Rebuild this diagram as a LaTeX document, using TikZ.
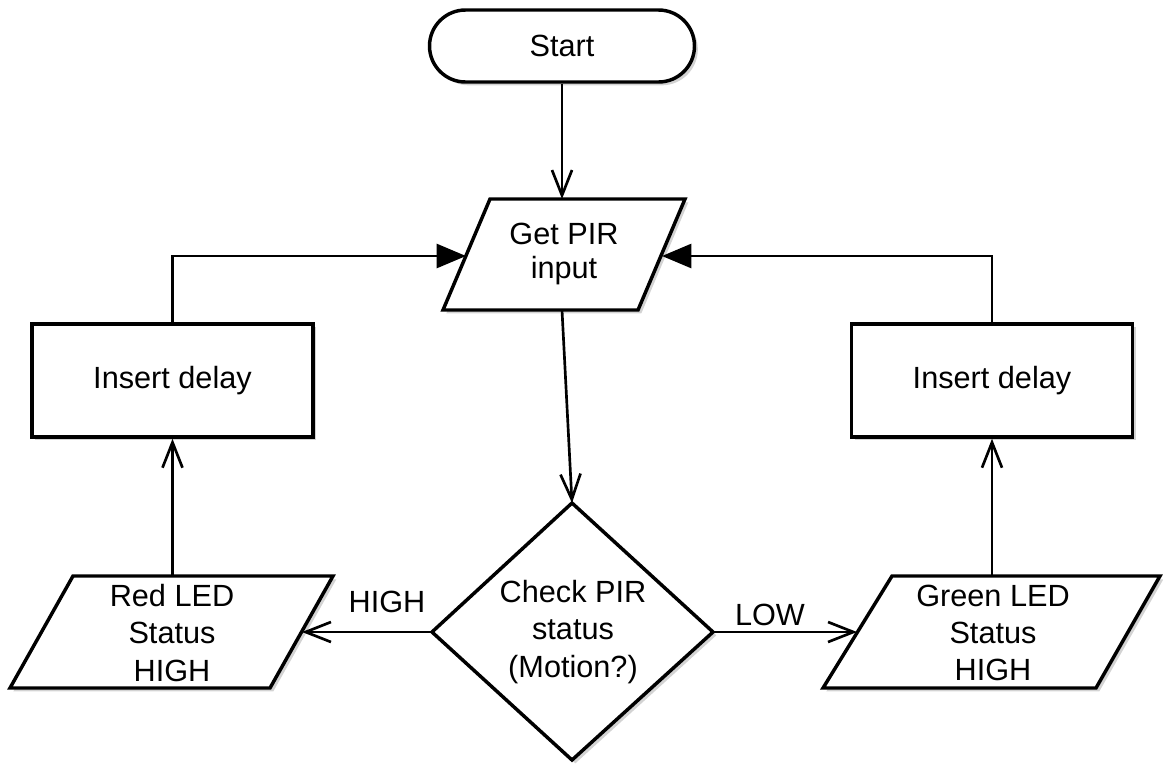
\documentclass[tikz,border=0pt]{standalone}
\usepackage{fontspec}
\setmainfont{Liberation Sans}
\usetikzlibrary{arrows.meta,shapes.misc,shadows}
\begin{document}
\begin{tikzpicture}[x=0.75pt,y=-0.75pt,
  box/.style={draw, line width=2.6pt, fill=white,
    drop shadow={shadow xshift=2.5pt, shadow yshift=-2.5pt, opacity=0.35}},
  txt/.style={font=\fontsize{23}{28}\selectfont, align=center, inner sep=0pt},
  conn/.style={line width=2pt},
  openarrow/.style={conn, -{Straight Barb[length=19pt,width=15pt,line width=2pt]}},
  filledarrow/.style={conn, -{Triangle[length=22pt,width=18pt]}}
]
\useasboundingbox (0,0) rectangle (1163,765);

% Start terminal
\node[box, txt, rounded rectangle, minimum width=198.75pt, minimum height=54pt] (start) at (562,46) {Start};

% Get PIR input (parallelogram)
\path[box] (490,199) -- (685,199) -- (638,310) -- (443,310) -- cycle;
\node[txt, font=\fontsize{23}{26}\selectfont] (get) at (564,254) {Get PIR\\input};
\coordinate (gettop) at (562,199);
\coordinate (getbot) at (562,310);
\coordinate (getL) at (466,256);
\coordinate (getR) at (662,256);

% Insert delay boxes
\node[box, txt, rectangle, minimum width=210.75pt, minimum height=84.75pt] (delayL) at (172.5,380.5) {Insert delay};
\node[box, txt, rectangle, minimum width=210.75pt, minimum height=84.75pt] (delayR) at (992,380.5) {Insert delay};

% Decision diamond
\path[box] (572,503) -- (713,632) -- (572,760) -- (432,632) -- cycle;
\node[txt] (check) at (573,632) {Check PIR\\status\\(Motion?)};
\coordinate (dtop) at (572,503);
\coordinate (dleft) at (432,632);
\coordinate (dright) at (713,632);

% Red LED
\path[box] (73,576) -- (333,576) -- (270,688) -- (10,688) -- cycle;
\node[txt] (red) at (172,633) {Red LED\\Status\\HIGH};
\coordinate (redtop) at (172.5,576);
\coordinate (redR) at (302,632);

% Green LED
\path[box] (892,576) -- (1160,576) -- (1096,688) -- (823,688) -- cycle;
\node[txt] (green) at (993,633) {Green LED\\Status\\HIGH};
\coordinate (greentop) at (992,576);
\coordinate (greenL) at (857,632);

% Labels
\node[txt] (high) at (387,602) {HIGH};
\node[txt] (low) at (770,614.5) {LOW};

% Connectors
\draw[openarrow] (start.south) -- (gettop);
\draw[filledarrow] (delayL.north) |- (getL);
\draw[filledarrow] (delayR.north) |- (getR);
\draw[openarrow] (getbot) -- (dtop);
\draw[openarrow] (dleft) -- (redR);
\draw[openarrow] (dright) -- (greenL);
\draw[openarrow] (redtop) -- (delayL.south);
\draw[openarrow] (greentop) -- (delayR.south);
\end{tikzpicture}
\end{document}
